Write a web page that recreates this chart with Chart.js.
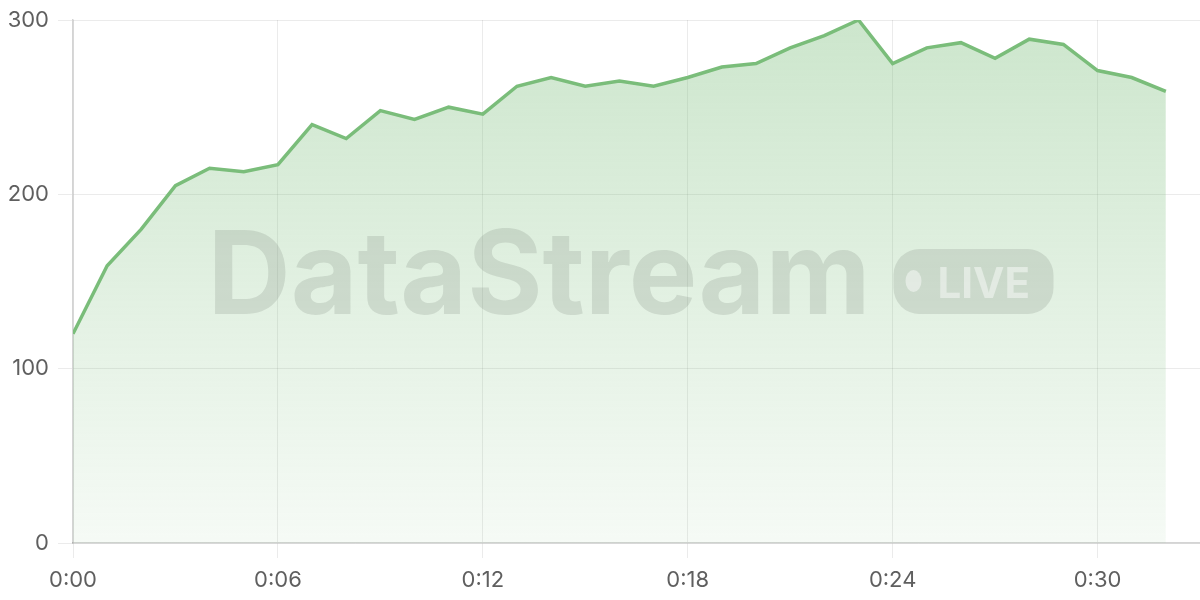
<!DOCTYPE html>
<html lang="en">
  <head>
    <meta charset="UTF-8" />
    <title>DataStream</title>
    <script src="https://cdn.jsdelivr.net/npm/chart.js"></script>
    <style>
      html, body { margin: 0; padding: 0; background: #fff; }
      #wrap { width: 1200px; height: 600px; }
    </style>
  </head>
  <body>
    <div id="wrap"><canvas id="streamChart"></canvas></div>

    <script>
      // minutes since start (0:00 .. 0:32)
      const minutes = [0, 1, 2, 3, 4, 5, 6, 7, 8, 9, 10, 11, 12, 13, 14, 15, 16,
        17, 18, 19, 20, 21, 22, 23, 24, 25, 26, 27, 28, 29, 30, 31, 32];
      const values = [120, 159, 180, 205, 215, 213, 217, 240, 232, 248, 243, 250, 246,
        262, 267, 262, 265, 262, 267, 273, 275, 284, 291, 300, 275, 284, 287, 278,
        289, 286, 271, 267, 259];
      const tickMinutes = [0, 6, 12, 18, 24, 30];
      const yTicks = [0, 100, 200, 300];

      const fmt = (m) => Math.floor(m / 60) + ":" + String(m % 60).padStart(2, "0");

      // watermark drawn over the fill
      const watermark = {
        id: "watermark",
        afterDatasetsDraw(chart) {
          const { ctx, chartArea: a } = chart;
          const cx = a.left + (a.right - a.left) / 2 - 6;
          const base = a.top + 294;
          ctx.save();
          ctx.fillStyle = "rgba(115,125,115,0.2)";
          ctx.font = "bold 116px Inter";
          ctx.textBaseline = "alphabetic";
          ctx.textAlign = "left";
          const textW = 663;
          const left = cx - 423;
          ctx.fillText("DataStream", left, base, textW);

          // LIVE badge
          const bx = left + 686, by = base - 65, bw = 160, bh = 65, r = 26;
          ctx.beginPath();
          ctx.roundRect(bx, by, bw, bh, r);
          ctx.fill();
          ctx.fillStyle = "rgba(255,255,255,0.45)";
          ctx.beginPath();
          ctx.ellipse(bx + 20, by + 32, 8, 11, 0, 0, Math.PI * 2);
          ctx.fill();
          ctx.font = "bold 42px Inter";
          ctx.fillText("LIVE", bx + 44, by + 49, 96);
          ctx.restore();
        },
      };

      const ctx = document.getElementById("streamChart").getContext("2d");
      new Chart(ctx, {
        type: "line",
        data: {
          datasets: [
            {
              data: minutes.map((m, i) => ({ x: m, y: values[i] })),
              borderColor: "rgb(122,189,122)",
              borderWidth: 3.5,
              pointRadius: 0,
              tension: 0,
              fill: "origin",
              backgroundColor: (c) => {
                const area = c.chart.chartArea;
                if (!area) return "rgba(122,189,122,0.3)";
                const g = c.chart.ctx.createLinearGradient(0, area.top, 0, area.bottom);
                g.addColorStop(0, "rgba(122,189,122,0.38)");
                g.addColorStop(1, "rgba(122,189,122,0.07)");
                return g;
              },
            },
          ],
        },
        options: {
          responsive: true,
          maintainAspectRatio: false,
          animation: false,
          layout: { padding: { top: 19, right: 0, left: 0, bottom: 0 } },
          plugins: { legend: { display: false }, tooltip: { enabled: false } },
          scales: {
            x: {
              type: "linear",
              min: 0,
              max: 33,
              afterBuildTicks: (s) => { s.ticks = tickMinutes.map((v) => ({ value: v })); },
              afterFit: (s) => { s.height = 57; },
              grid: { color: "rgba(0,0,0,0.08)", tickLength: 15 },
              border: { color: "rgba(0,0,0,0.17)", width: 1.5 },
              ticks: {
                color: "#5f5f5f",
                font: { family: "Inter", size: 22 },
                padding: 9,
                maxRotation: 0,
                callback: (v) => fmt(v),
              },
            },
            y: {
              min: 0,
              max: 300,
              afterBuildTicks: (s) => { s.ticks = yTicks.map((v) => ({ value: v })); },
              afterFit: (s) => { s.width = 73; },
              grid: { color: "rgba(0,0,0,0.08)", tickLength: 15 },
              border: { color: "rgba(0,0,0,0.17)", width: 1.5 },
              ticks: {
                color: "#5f5f5f",
                font: { family: "Inter", size: 22, lineHeight: 1 },
                padding: 9,
              },
            },
          },
        },
        plugins: [watermark],
      });
    </script>
  </body>
</html>
